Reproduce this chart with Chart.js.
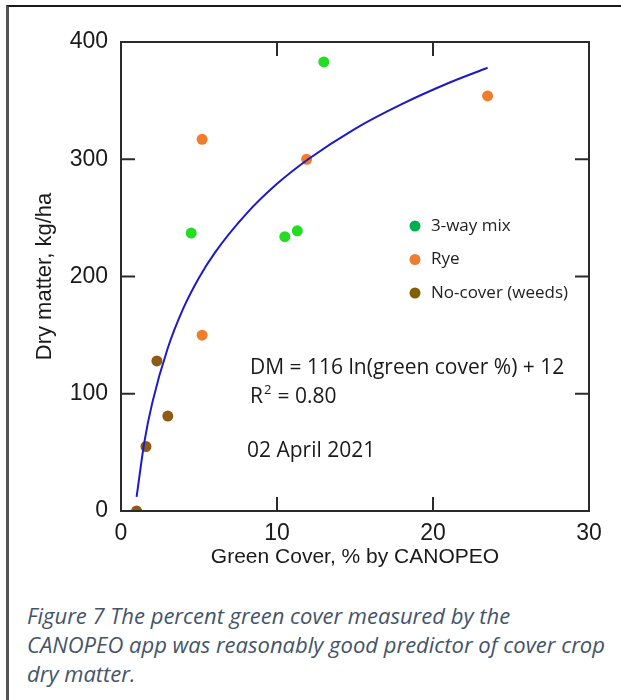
<!DOCTYPE html>
<html>
<head>
<meta charset="utf-8">
<script src="https://cdn.jsdelivr.net/npm/chart.js@4.4.0/dist/chart.umd.min.js"></script>
<style>
    html, body { margin: 0; padding: 0; background: #fff; overflow: hidden; }
    .frame {
        position: absolute; left: 6px; top: 5px; width: 700px; height: 800px;
        border-top: 2px solid #1a1a1a; border-left: 3px solid #555;
    }
    #wrap { position: absolute; left: 0; top: 0; width: 621px; height: 580px; }
    .caption {
        position: absolute; left: 27px; top: 601px; width: 610px;
        font-family: "Open Sans", sans-serif; font-style: italic; font-size: 22px;
        line-height: 29px; color: #44546a; white-space: nowrap;
    }
</style>
</head>
<body>
<div class="frame"></div>
<div id="wrap"><canvas id="chart"></canvas></div>
<div class="caption">Figure 7 The percent green cover measured by the<br>CANOPEO app was reasonably good predictor of cover crop<br>dry matter.</div>
<script>
// points: green cover %, dry matter kg/ha
const mixX = [13.0, 4.5, 10.5, 11.3];
const mixY = [383, 237, 234, 239];
const ryeX = [5.2, 11.9, 23.5, 5.2];
const ryeY = [317, 300, 354, 150];
const weedX = [2.3, 3.0, 1.6, 1.0];
const weedY = [128, 81, 55, 0];

// fitted curve, as drawn
const fitX = [1, 1.5, 2, 3, 4, 5, 6, 8, 10, 12, 15, 18, 21, 23.5];
const fitY = [12, 59, 92, 139, 173, 199, 220, 253, 279, 300, 326, 347, 365, 378];

const xTicks = [0, 10, 20, 30];
const yTicks = [0, 100, 200, 300, 400];

const toPoints = (xs, ys) => xs.map((x, i) => ({ x: x, y: ys[i] }));

const axisFont = { family: '"Liberation Sans", Arial, sans-serif', size: 23 };
const textFont = '"Open Sans", sans-serif';

// box, inward ticks, legend and notes
const decor = {
    id: 'decor',
    afterDraw(chart) {
        const { ctx, chartArea: a, scales: { x, y } } = chart;
        ctx.save();
        ctx.strokeStyle = '#2b2b2b';
        ctx.lineWidth = 2;
        ctx.strokeRect(a.left, a.top, a.right - a.left, a.bottom - a.top);
        const len = 14;
        ctx.beginPath();
        xTicks.slice(1, -1).forEach(v => {
            const px = x.getPixelForValue(v);
            ctx.moveTo(px, a.bottom); ctx.lineTo(px, a.bottom - len);
            ctx.moveTo(px, a.top); ctx.lineTo(px, a.top + len);
        });
        yTicks.slice(1, -1).forEach(v => {
            const py = y.getPixelForValue(v);
            ctx.moveTo(a.left, py); ctx.lineTo(a.left + len, py);
            ctx.moveTo(a.right, py); ctx.lineTo(a.right - len, py);
        });
        ctx.stroke();

        // legend inside plot
        const items = chart.data.datasets.filter(d => d.legendColor);
        ctx.font = '17px ' + textFont;
        ctx.textBaseline = 'middle';
        items.forEach((d, i) => {
            const ly = 226 + i * 33.5;
            ctx.fillStyle = d.legendColor;
            ctx.beginPath();
            ctx.arc(415, ly, 5.5, 0, Math.PI * 2);
            ctx.fill();
            ctx.fillStyle = '#222';
            ctx.fillText(d.label, 431, ly);
        });

        // equation and date
        ctx.fillStyle = '#1a1a1a';
        ctx.font = '21px ' + textFont;
        ctx.fillText('DM = 116 ln(green cover %) + 12', 250, 368);
        ctx.fillText('R', 250, 397);
        const rw = ctx.measureText('R').width;
        ctx.font = '13px ' + textFont;
        ctx.fillText('2', 250 + rw + 1, 390);
        ctx.font = '21px ' + textFont;
        ctx.fillText(' = 0.80', 250 + rw + 9, 397);
        ctx.fillText('02 April 2021', 247, 451);
        ctx.restore();
    }
};

const ctx = document.getElementById('chart').getContext('2d');

new Chart(ctx, {
    type: 'scatter',
    data: {
        datasets: [
            {
                label: 'fit',
                data: toPoints(fitX, fitY),
                showLine: true,
                borderColor: '#1a1ac8',
                borderWidth: 2,
                pointRadius: 0,
                cubicInterpolationMode: 'monotone'
            },
            {
                label: '3-way mix',
                data: toPoints(mixX, mixY),
                backgroundColor: '#22dd22',
                borderWidth: 0,
                pointRadius: 5.5,
                legendColor: '#00b050'
            },
            {
                label: 'Rye',
                data: toPoints(ryeX, ryeY),
                backgroundColor: '#f07d2c',
                borderWidth: 0,
                pointRadius: 5.5,
                legendColor: '#ed7d31'
            },
            {
                label: 'No-cover (weeds)',
                data: toPoints(weedX, weedY),
                backgroundColor: '#8e5a14',
                borderWidth: 0,
                pointRadius: 5.5,
                legendColor: '#7f6000'
            }
        ]
    },
    options: {
        responsive: true,
        maintainAspectRatio: false,
        animation: false,
        layout: { padding: { top: 42, right: 32, left: 0, bottom: 0 } },
        plugins: {
            legend: { display: false },
            tooltip: { enabled: false }
        },
        scales: {
            x: {
                type: 'linear',
                min: 0,
                max: 30,
                afterFit: s => { s.height = 69; },
                afterBuildTicks: s => { s.ticks = xTicks.map(v => ({ value: v })); },
                ticks: { color: '#1a1a1a', font: axisFont, padding: 1 },
                grid: { display: false },
                border: { display: false },
                title: {
                    display: true,
                    text: 'Green Cover, % by CANOPEO',
                    color: '#1a1a1a',
                    font: { family: axisFont.family, size: 21 },
                    padding: { top: 0, bottom: 10 }
                }
            },
            y: {
                min: 0,
                max: 400,
                afterFit: s => { s.width = 121; },
                afterBuildTicks: s => { s.ticks = yTicks.map(v => ({ value: v })); },
                ticks: { color: '#1a1a1a', font: axisFont, padding: 5 },
                grid: { display: false },
                border: { display: false },
                title: {
                    display: true,
                    text: 'Dry matter, kg/ha',
                    color: '#1a1a1a',
                    font: { family: axisFont.family, size: 22 },
                    padding: { top: 32, bottom: 0 }
                }
            }
        }
    },
    plugins: [decor]
});
</script>
</body>
</html>
